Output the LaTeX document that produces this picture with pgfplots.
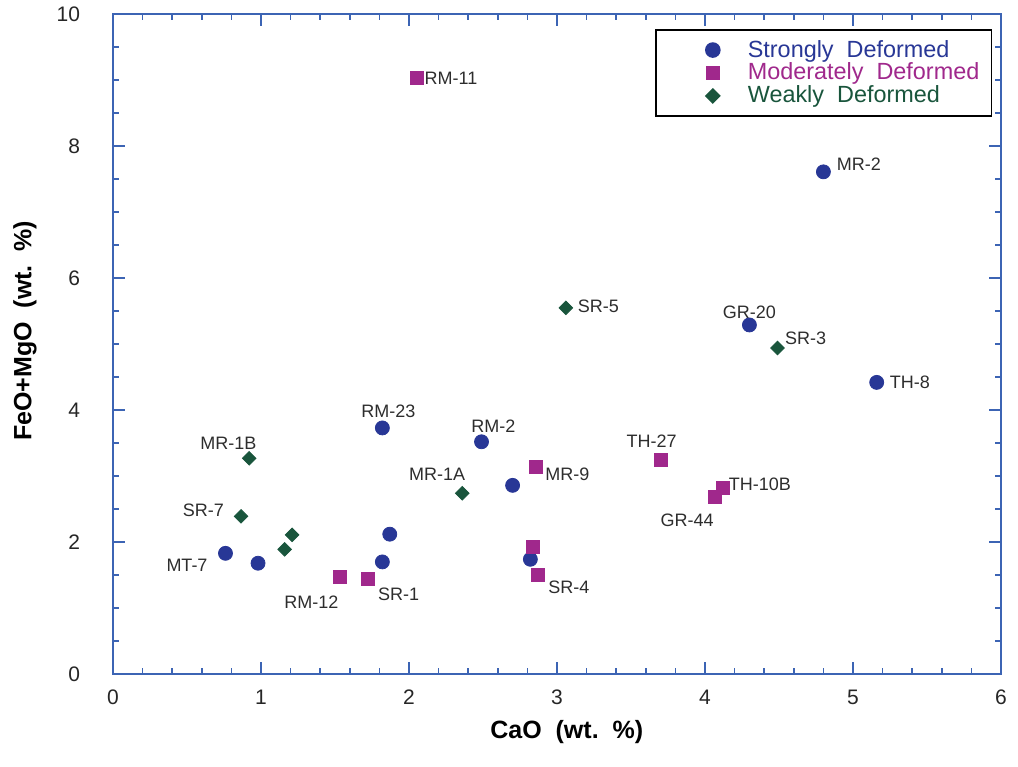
\documentclass[border=0pt]{standalone}
\usepackage{fontspec}
\setmainfont{Liberation Sans}
\usepackage{pgfplots}
\pgfplotsset{compat=1.18}
\definecolor{sblue}{RGB}{40,55,150}
\definecolor{mpurp}{RGB}{160,40,140}
\definecolor{wgreen}{RGB}{25,85,60}
\definecolor{frameblue}{RGB}{60,100,180}
\definecolor{lblgray}{RGB}{45,45,45}
\begin{document}
\begin{tikzpicture}
\begin{axis}[
  scale only axis, width=444pt, height=330pt,
  xmin=0, xmax=6, ymin=0, ymax=10,
  xtick={0,1,2,3,4,5,6}, ytick={0,2,4,6,8,10},
  minor x tick num=4, minor y tick num=3,
  tick align=inside,
  major tick length=6pt, minor tick length=3pt,
  axis line style={color=frameblue, line width=1pt},
  every tick/.style={color=frameblue, line width=0.8pt},
  ticklabel style={font=\fontsize{10.5}{12}\selectfont, color=black!85},
  /pgf/number format/assume math mode=true,
  yticklabel style={xshift=-13pt},
  xticklabel style={yshift=-4.5pt},
  every axis x label/.style={at={(axis description cs:0.511,-0.088)}, anchor=center},
  every axis y label/.style={at={(axis description cs:-0.099,0.52)}, rotate=90, anchor=center},
  xlabel={\fontsize{12.5}{14}\selectfont\bfseries CaO\ \ (wt.\ \ \%)},
  ylabel={\fontsize{12.5}{14}\selectfont\bfseries FeO+MgO\ \ (wt.\ \ \%)},
  clip=false,
  legend cell align=left,
  legend style={at={(axis description cs:0.99,0.977)}, anchor=north east,
    draw=black, line width=0.8pt, fill=white,
    font=\fontsize{11.7}{13}\selectfont,
    inner xsep=4pt, inner ysep=5pt, row sep=1.5pt,
    nodes={inner ysep=0pt}},
  legend image code/.code={\path[draw=none,fill=none] (0pt,-3pt) rectangle (40pt,3pt); \draw[#1] plot coordinates {(24.5pt,0pt)};},
]
% Strongly deformed
\addplot[only marks, mark=*, mark size=3.5pt, color=sblue, fill=sblue] coordinates {
 (4.80,7.61) (4.30,5.29) (5.16,4.42) (1.82,3.73) (2.49,3.52) (2.70,2.86)
 (1.87,2.12) (1.82,1.70) (0.76,1.83) (0.98,1.68) (2.82,1.74)
};
\addlegendentry{\textcolor{sblue}{Strongly\ \ Deformed}}
% Moderately deformed
\addplot[only marks, mark=square*, mark size=3.25pt, color=mpurp, fill=mpurp] coordinates {
 (2.05,9.03) (3.70,3.24) (2.86,3.14) (4.12,2.82) (4.07,2.68)
 (2.84,1.92) (2.87,1.50) (1.53,1.48) (1.72,1.44)
};
\addlegendentry{\textcolor{mpurp}{Moderately\ \ Deformed}}
% Weakly deformed
\addplot[only marks, mark=square*, mark size=2.4pt, mark options={rotate=45}, color=wgreen, fill=wgreen] coordinates {
 (3.06,5.55) (4.49,4.94) (0.92,3.27) (2.36,2.74) (0.865,2.39) (1.21,2.11) (1.16,1.89)
};
\addlegendentry{\textcolor{wgreen}{Weakly\ \ Deformed}}
% point labels
\begin{scope}[every node/.style={font=\fontsize{9}{10}\selectfont, color=lblgray, anchor=center, inner sep=0pt}]
\node at (axis cs:2.284,9.03) {RM-11};
\node at (axis cs:5.04,7.73) {MR-2};
\node at (axis cs:4.30,5.48) {GR-20};
\node at (axis cs:4.68,5.09) {SR-3};
\node at (axis cs:5.385,4.42) {TH-8};
\node at (axis cs:3.28,5.58) {SR-5};
\node at (axis cs:1.86,3.98) {RM-23};
\node at (axis cs:2.57,3.76) {RM-2};
\node at (axis cs:0.78,3.50) {MR-1B};
\node at (axis cs:2.19,3.02) {MR-1A};
\node at (axis cs:3.64,3.53) {TH-27};
\node at (axis cs:3.07,3.03) {MR-9};
\node at (axis cs:4.37,2.88) {TH-10B};
\node at (axis cs:3.88,2.33) {GR-44};
\node at (axis cs:0.61,2.48) {SR-7};
\node at (axis cs:0.50,1.65) {MT-7};
\node at (axis cs:1.34,1.09) {RM-12};
\node at (axis cs:1.93,1.21) {SR-1};
\node at (axis cs:3.08,1.32) {SR-4};
\end{scope}
\end{axis}
\path ([shift={(-56.5pt,-46pt)}]current axis.south west) rectangle ([shift={(8.5pt,6pt)}]current axis.north east);
\end{tikzpicture}
\end{document}
